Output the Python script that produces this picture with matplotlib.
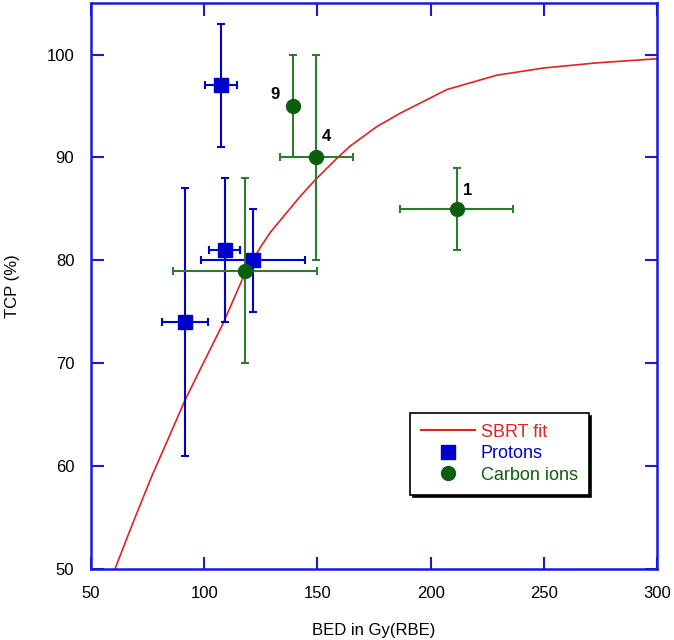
import matplotlib
matplotlib.use('Agg')
from matplotlib import pyplot as plt
from matplotlib.lines import Line2D

# SBRT fit curve
fit_bed = [60.6, 68.0, 76.8, 84.0, 91.5, 98.9, 108.4, 117.3, 124.6, 129.1, 142.3,
           148.9, 158.5, 164.4, 176.2, 186.5, 207.1, 229.2, 249.9, 273.4, 300.0]
fit_tcp = [50.0, 54.2, 59.0, 62.6, 66.4, 69.7, 73.9, 78.4, 81.2, 82.7, 86.2,
           87.8, 89.9, 91.1, 93.0, 94.3, 96.6, 98.0, 98.7, 99.2, 99.6]

# protons
p_bed = [107.5, 109.0, 121.5, 91.5]
p_tcp = [97, 81, 80, 74]
p_xerr = [7, 7, 23, 10]
p_yerr = [6, 7, 5, 13]

# carbon ions
c_bed = [139.0, 149.5, 118.0, 211.5]
c_tcp = [95, 90, 79, 85]
c_xerr = [0, 16, 32, 25]
c_yerr = [5, 10, 9, 4]
c_labels = ['9', '4', '', '1']
c_label_pos = [(131.3, 96.1), (154.1, 92.0), None, (216.4, 86.8)]

blue = '#0000CC'
axis_blue = '#1A1AD9'
green = '#0B5E0B'
green_bar = '#2E7A2E'
red = '#E02222'

plt.rcParams['font.family'] = ['Liberation Sans', 'DejaVu Sans']

fig = plt.figure(figsize=(6.74, 6.4), dpi=100)
ax = fig.add_axes([0.135, 0.111, 0.84, 0.884])

ax.plot(fit_bed, fit_tcp, color=red, lw=1.2, zorder=2)

ax.errorbar(p_bed, p_tcp, xerr=p_xerr, yerr=p_yerr, fmt='none', ecolor=blue,
            elinewidth=1.5, capsize=2.7, capthick=1.5, zorder=3)
ax.plot(p_bed, p_tcp, 's', color=blue, ms=10, zorder=4)

ax.errorbar(c_bed, c_tcp, xerr=c_xerr, yerr=c_yerr, fmt='none', ecolor=green_bar,
            elinewidth=1.5, capsize=2.7, capthick=1.5, zorder=3)
ax.plot(c_bed, c_tcp, 'o', color=green, ms=10, zorder=4)

for lab, pos in zip(c_labels, c_label_pos):
    if lab:
        ax.text(pos[0], pos[1], lab, fontsize=12, fontweight='bold',
                ha='center', va='center')

ax.set_xlim(50, 300)
ax.set_ylim(50, 105)
ax.set_xticks([50, 100, 150, 200, 250, 300])
ax.set_yticks([50, 60, 70, 80, 90, 100])
ax.tick_params(direction='in', length=9, width=1.5, color=axis_blue,
               top=True, right=True, labelsize=12, pad=12)
for s in ax.spines.values():
    s.set_color(axis_blue)
    s.set_linewidth(1.8)

ax.set_xlabel('BED in Gy(RBE)', fontsize=12, labelpad=16)
ax.set_ylabel('TCP (%)', fontsize=12, labelpad=19)

handles = [Line2D([], [], color=red, lw=1.5),
           Line2D([], [], ls='none', marker='s', color=blue, ms=10),
           Line2D([], [], ls='none', marker='o', color=green, ms=10)]
leg = ax.legend(handles, ['SBRT fit', 'Protons', 'Carbon ions'],
                loc='upper left', bbox_to_anchor=(0.564, 0.276), fontsize=13,
                fancybox=False, edgecolor='black', framealpha=1,
                shadow={'color': 'black', 'alpha': 1}, labelspacing=0.25,
                handlelength=3.0, handletextpad=0.3, borderpad=0.6,
                borderaxespad=0)
leg.get_frame().set_linewidth(1.2)
for t, c in zip(leg.get_texts(), [red, blue, green]):
    t.set_color(c)

fig.savefig('out.png', dpi=100)
